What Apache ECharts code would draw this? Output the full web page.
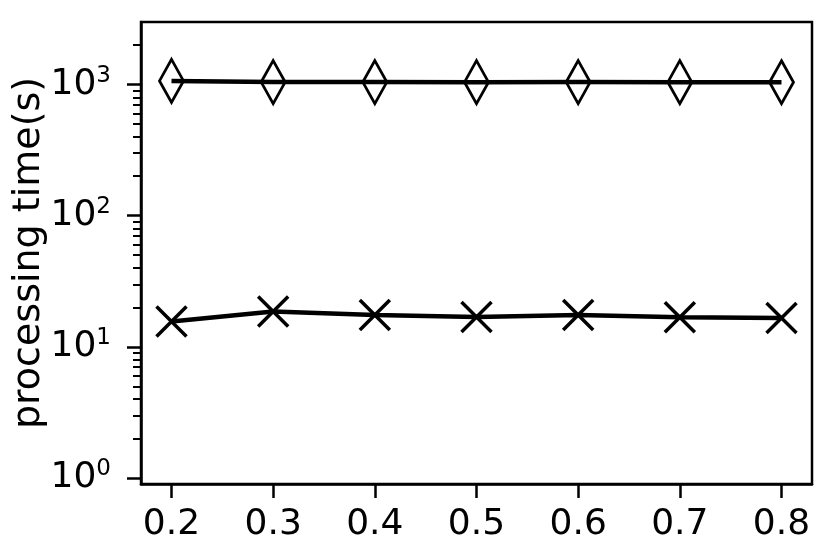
<!DOCTYPE html>
<html>
<head>
<meta charset="utf-8">
<script src="https://cdn.jsdelivr.net/npm/echarts@6/dist/echarts.min.js"></script>
<style>
html,body{margin:0;padding:0;background:#fff;}
#chart{width:830px;height:545px;}
</style>
</head>
<body>
<div id="chart"></div>
<script>
// ---- data ----
var xValues = [0.2, 0.3, 0.4, 0.5, 0.6, 0.7, 0.8];
var diamondSeries = [1066, 1045, 1044, 1043, 1044, 1043, 1042];
var crossSeries = [15.6, 18.6, 17.5, 16.9, 17.5, 16.8, 16.6];
var yMajorTicks = [1, 10, 100, 1000];
var yAxisTitle = 'processing time(s)';

function pairs(xs, ys) { return xs.map(function (x, i) { return [x, ys[i]]; }); }

var FONT = 'DejaVu Sans';
var chart = echarts.init(document.getElementById('chart'), null, {renderer: 'canvas'});
chart.setOption({
  animation: false,
  backgroundColor: '#fff',
  grid: {left: 141, right: 18, top: 22, bottom: 61, show: true, borderColor: '#000', borderWidth: 2.5},
  graphic: [{
    type: 'text',
    x: 29, y: 253,
    rotation: Math.PI / 2,
    style: {
      text: yAxisTitle,
      fontFamily: FONT, fontSize: 38,
      fill: '#000',
      align: 'center',
      verticalAlign: 'middle'
    }
  }],
  xAxis: {
    type: 'value', min: 0.17, max: 0.83,
    axisLine: {show: true, lineStyle: {color: '#000', width: 2.5}},
    axisTick: {show: true, customValues: xValues, length: 14, lineStyle: {color: '#000', width: 2.5}},
    axisLabel: {
      customValues: xValues, margin: 23,
      fontFamily: FONT, fontSize: 36, color: '#000'
    },
    splitLine: {show: false}
  },
  yAxis: {
    type: 'log', min: 0.9, max: 3000,
    axisLine: {show: true, lineStyle: {color: '#000', width: 2.5}},
    axisTick: {show: true, customValues: yMajorTicks, length: 14, lineStyle: {color: '#000', width: 2.5}},
    minorTick: {show: true, splitNumber: 9, length: 8, lineStyle: {color: '#000', width: 2}},
    axisLabel: {
      customValues: yMajorTicks, margin: 30,
      fontFamily: FONT, color: '#000',
      formatter: function (v) {
        return '{b|10}{s|' + Math.round(Math.log10(Number(v))) + '}';
      },
      rich: {
        b: {fontFamily: FONT, fontSize: 36, color: '#000', lineHeight: 40},
        s: {fontFamily: FONT, fontSize: 23, color: '#000', verticalAlign: 'top', lineHeight: 40}
      }
    },
    splitLine: {show: false}
  },
  series: [{
    type: 'line', data: pairs(xValues, diamondSeries),
    symbol: 'diamond', symbolSize: [24, 43],
    lineStyle: {color: '#000', width: 4.5},
    itemStyle: {color: 'rgba(0,0,0,0)', borderColor: '#000', borderWidth: 3}
  }, {
    type: 'line', data: pairs(xValues, crossSeries),
    symbol: 'path://M0,0L10,10M10,0L0,10', symbolSize: 30,
    lineStyle: {color: '#000', width: 4.5},
    itemStyle: {color: 'rgba(0,0,0,0)', borderColor: '#000', borderWidth: 3.5}
  }]
});
</script>
</body>
</html>
